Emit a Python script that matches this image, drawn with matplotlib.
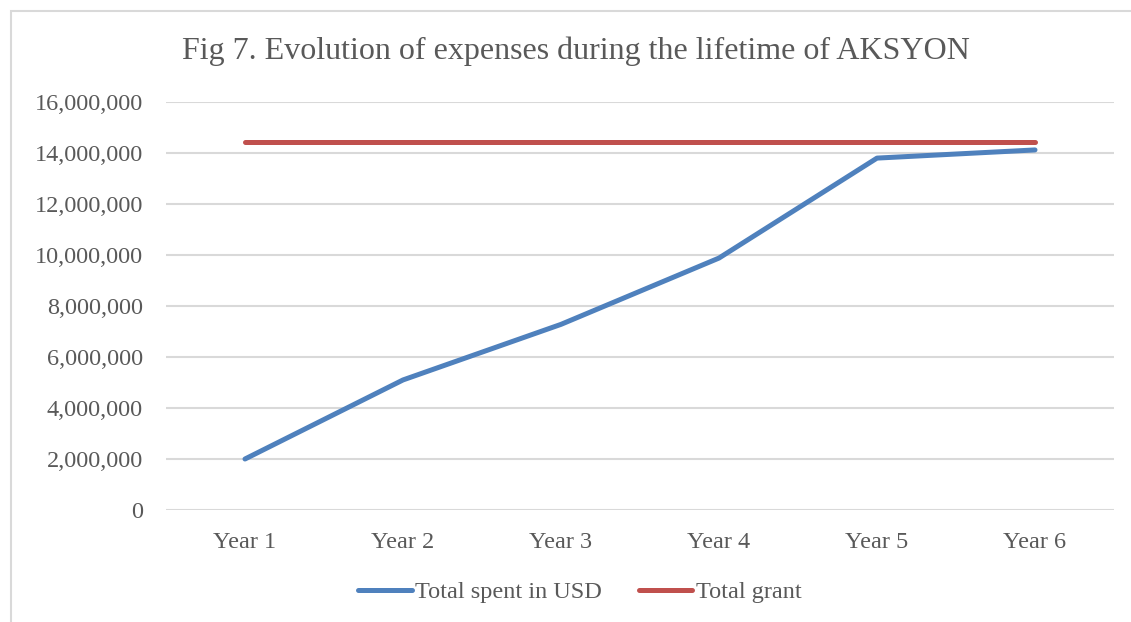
import matplotlib.pyplot as plt
from matplotlib.patches import Rectangle
from matplotlib.ticker import FuncFormatter

# Data
years = ['Year 1', 'Year 2', 'Year 3', 'Year 4', 'Year 5', 'Year 6']
total_spent = [2000000, 5100000, 7280000, 9880000, 13800000, 14120000]
total_grant = [14430000, 14430000, 14430000, 14430000, 14430000, 14430000]
y_ticks = [0, 2000000, 4000000, 6000000, 8000000, 10000000, 12000000, 14000000, 16000000]

text_color = '#595959'
plt.rcParams['font.family'] = ['Liberation Serif', 'DejaVu Serif']

fig = plt.figure(figsize=(11.31, 6.22), dpi=100)
# light frame around the chart area
fig.patches.append(Rectangle((11 / 1131, -0.1), 1.2, (622 - 11) / 622 + 0.1,
                             transform=fig.transFigure, fill=False,
                             edgecolor='#D9D9D9', linewidth=1.5))

ax = fig.add_axes([166 / 1131, 112 / 622, 948 / 1131, 408 / 622])
x = list(range(len(years)))
ax.plot(x, total_spent, color='#4F81BD', linewidth=3.6, solid_capstyle='round',
        label='Total spent in USD', zorder=3)
ax.plot(x, total_grant, color='#C0504D', linewidth=3.6, solid_capstyle='round',
        label='Total grant', zorder=3)

ax.set_xlim(-0.5, len(years) - 0.5)
ax.set_ylim(0, 16000000)
ax.set_yticks(y_ticks)
ax.yaxis.set_major_formatter(FuncFormatter(lambda v, p: f'{int(v):,}'))
ax.set_xticks(x)
ax.set_xticklabels(years)
ax.tick_params(length=0, labelsize=17.5, labelcolor=text_color)
ax.tick_params(axis='y', pad=16.5)
ax.tick_params(axis='x', pad=16)
ax.grid(axis='y', color='#D9D9D9', linewidth=1.5)
ax.set_axisbelow(True)
for s in ax.spines.values():
    s.set_visible(False)

fig.text(576 / 1131, 1 - 51 / 622, 'Fig 7. Evolution of expenses during the lifetime of AKSYON',
         ha='center', va='center', fontsize=23, color=text_color)

leg = fig.legend(loc='center', bbox_to_anchor=(580 / 1131, 1 - 592 / 622), ncol=2,
                 frameon=False, fontsize=17.5, handlelength=2.2, handletextpad=0.15,
                 columnspacing=1.5)
for t in leg.get_texts():
    t.set_color(text_color)

plt.savefig('out.png', dpi=100)
